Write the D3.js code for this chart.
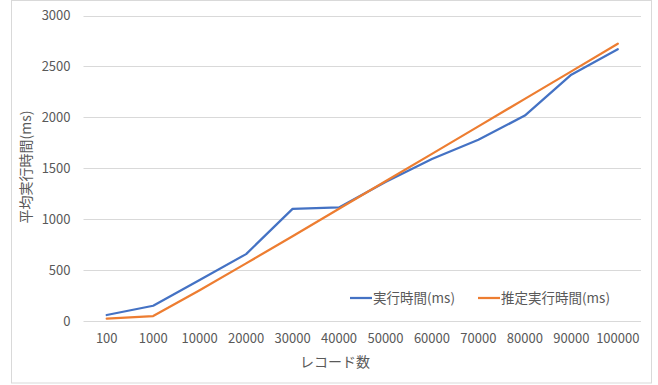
<!DOCTYPE html>
<html>
<head>
<meta charset="utf-8">
<script src="https://cdn.jsdelivr.net/npm/d3@7"></script>
<style>
  html, body { margin: 0; padding: 0; background: #fff; }
  svg { display: block; }
  text { font-family: "Noto Sans CJK JP", "Noto Sans", sans-serif; fill: #595959; }
</style>
</head>
<body>
<svg id="chart" width="658" height="385"></svg>
<script>
// Record counts (category axis)
const categories = ["100", "1000", "10000", "20000", "30000", "40000", "50000", "60000", "70000", "80000", "90000", "100000"];
// Measured average execution time (ms)
const measured = [59, 150, 402, 657, 1101, 1115, 1366, 1592, 1780, 2018, 2420, 2670];
// Estimated execution time (ms)
const estimated = [23, 49, 302, 566, 833, 1103, 1372, 1642, 1912, 2182, 2452, 2724];
const yTicks = [0, 500, 1000, 1500, 2000, 2500, 3000];
const seriesNames = ["実行時間(ms)", "推定実行時間(ms)"];
const seriesColors = ["#4472C4", "#ED7D31"];
const xTitle = "レコード数";
const yTitle = "平均実行時間(ms)";

const svg = d3.select("#chart");
const plot = { left: 83.5, right: 641, top: 15.6, bottom: 321 };

// Outer chart frame
svg.append("rect")
  .attr("x", 11.5).attr("y", 0.5).attr("width", 640).attr("height", 382.5)
  .attr("fill", "#fff").attr("stroke", "#d9d9d9").attr("stroke-width", 1);

const x = d3.scaleBand().domain(categories).range([plot.left, plot.right]);
const y = d3.scaleLinear().domain([0, 3000]).range([plot.bottom, plot.top]);

// Horizontal gridlines
svg.append("g").selectAll("line").data(yTicks).join("line")
  .attr("x1", plot.left).attr("x2", plot.right)
  .attr("y1", d => Math.round(y(d)) + 0.5).attr("y2", d => Math.round(y(d)) + 0.5)
  .attr("stroke", "#d9d9d9").attr("stroke-width", 1);

// Y axis tick labels
const yAxis = d3.axisLeft(y).tickValues(yTicks).tickFormat(d3.format("d")).tickSize(0).tickPadding(13);
const gy = svg.append("g").attr("transform", `translate(${plot.left},0)`).call(yAxis);
gy.select(".domain").remove();
gy.selectAll("text").attr("font-size", 13).attr("fill", "#595959")
  .style("font-family", "'Noto Sans CJK JP', sans-serif");

// X axis tick labels
const xAxis = d3.axisBottom(x).tickSize(0).tickPadding(13);
const gx = svg.append("g").attr("transform", `translate(0,${plot.bottom})`).call(xAxis);
gx.select(".domain").remove();
gx.selectAll("text").attr("font-size", 13).attr("fill", "#595959")
  .style("font-family", "'Noto Sans CJK JP', sans-serif");

// Axis titles
svg.append("text")
  .attr("x", 335).attr("y", 367)
  .attr("text-anchor", "middle").attr("font-size", 14)
  .text(xTitle);
svg.append("text")
  .attr("transform", `translate(31,167) rotate(-90)`)
  .attr("text-anchor", "middle").attr("font-size", 14)
  .text(yTitle);

// Series lines
const line = d3.line()
  .x((d, i) => x(categories[i]) + x.bandwidth() / 2)
  .y(d => y(d));

[measured, estimated].forEach((vals, i) => {
  svg.append("path")
    .datum(vals)
    .attr("d", line)
    .attr("fill", "none")
    .attr("stroke", seriesColors[i])
    .attr("stroke-width", 2.25)
    .attr("stroke-linejoin", "round")
    .attr("stroke-linecap", "round");
});

// Legend
const legendItems = [{ x: 350 }, { x: 478 }];
legendItems.forEach((item, i) => {
  const g = svg.append("g").attr("transform", `translate(${item.x},298)`);
  g.append("line").attr("x1", 0).attr("x2", 22).attr("y1", 0).attr("y2", 0)
    .attr("stroke", seriesColors[i]).attr("stroke-width", 2.25);
  g.append("text").attr("x", 23).attr("y", 5).attr("font-size", 13.5)
    .text(seriesNames[i]);
});
</script>
</body>
</html>
